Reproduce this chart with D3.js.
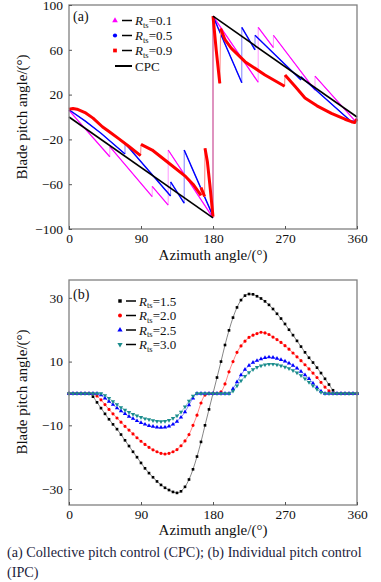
<!DOCTYPE html>
<html lang="en">
<head>
<meta charset="utf-8">
<title>Blade pitch angle vs azimuth</title>
<script src="https://d3js.org/d3.v7.min.js"></script>
<style>
body { margin: 0; background: #fff; }
svg { font-family: "Liberation Serif", "DejaVu Serif", serif; fill: #111; }
.frame { fill: none; stroke: #808080; stroke-width: 1.3px; }
.tick line { stroke: #555; stroke-width: 1px; }
.tick text { font-family: "Liberation Serif", serif; font-size: 13.5px; fill: #111; }
</style>
</head>
<body>
<script>
// ---- panel (a): collective pitch control, segments of [azimuth, pitch]
var pinkA = [
  [[0, 6], [51, -35.5]],
  [[51, -26.5], [104, -71]],
  [[104, -62], [124, -78.6]],
  [[124, -29.5], [180, -90]],
  [[180, 90], [236.5, 31]],
  [[236.5, 80], [255.5, 62]],
  [[255.5, 73], [307.5, 24]],
  [[307.5, 36.5], [357, -3], [360, -1]]
];
var blueA = [
  [[0, 6.5], [20, -3.5], [40, -14.5], [70, -33]],
  [[70, -23.5], [127, -70.5]],
  [[127, -58], [144, -77]],
  [[144, -29.5], [180, -88.5]],
  [[180, 90], [216, 30.5]],
  [[216, 80], [232.5, 60]],
  [[232.5, 73], [290, 33]],
  [[290, 36], [352, -3.5], [358, -4], [360, -2]]
];
var redA = [
  [[0, 7], [5, 7.6], [10, 7], [20, 4], [30, -1], [41.7, -8.7], [50, -13], [62.5, -19.5], [75, -26.3], [89.5, -34.5]],
  [[90, -24.4], [104, -29.5], [125, -41.3], [146, -53.3], [155, -60], [165, -70]],
  [[165, -63], [169.5, -71]],
  [[170, -28], [173, -40], [176, -60], [180, -89]],
  [[180, 90], [184, 60], [188.5, 30]],
  [[189.5, 79], [195, 69], [203, 61.3], [220, 49.4], [245, 37.5], [269.5, 27.5]],
  [[270, 37.5], [283, 27], [295, 17], [310, 10], [328, 3.3], [345, -2], [353, -4.2], [357, -5], [360, -2]]
];
var cpcA = [
  [[0, 0], [180, -90]],
  [[180, 90], [360, 0]]
];
var labelsA = ["0.1", "0.5", "0.9"];
var xTicks = [0, 90, 180, 270, 360];
var yTicksA = [-100, -60, -20, 20, 60, 100];

// ---- panel (b): individual pitch control
var azimuthB = [0, 5, 10, 15, 20, 25, 30, 35, 40, 45, 50, 55, 60, 65, 70, 75, 80, 85, 90,
  95, 100, 105, 110, 115, 120, 125, 130, 135, 140, 145, 150, 155, 160, 165, 170, 175, 180,
  185, 190, 195, 200, 205, 210, 215, 220, 225, 230, 235, 240, 245, 250, 255, 260, 265, 270,
  275, 280, 285, 290, 295, 300, 305, 310, 315, 320, 325, 330, 335, 340, 345, 350, 355, 360];
var rts15 = [0, 0, 0, 0, 0, 0,
  -1.0, -2.8, -4.6, -6.4, -8.1, -9.7, -11.2, -12.9, -14.7, -16.5, -18.3, -20.0, -21.8, -23.5,
  -25.0, -26.3, -27.6, -28.7, -29.6, -30.3, -30.9, -31.2, -30.7, -29.3, -27.0, -23.8, -19.8,
  -15.2, -10.0, -5.0, 0,
  5.0, 10.0, 15.2, 19.8, 23.8, 27.0, 29.3, 30.7, 31.2, 31.1, 30.5, 29.8, 28.9, 27.8, 26.5,
  25.0, 23.5, 21.8, 20.0, 18.3, 16.5, 14.7, 12.9, 11.2, 9.7, 8.1, 6.4, 4.6, 2.8, 1.0,
  0, 0, 0, 0, 0, 0];
var rts20 = [0, 0, 0, 0, 0, 0, 0,
  -0.8, -2.0, -3.5, -5.0, -6.4, -7.7, -9.0, -10.3, -11.5, -12.7, -13.9, -15.0, -16.0, -16.9,
  -17.7, -18.3, -18.8, -19.0, -18.8, -18.3, -17.6, -16.4, -14.9, -12.9, -10.0, -6.8, -3.0, -0.5,
  0, 0, 0,
  0.5, 3.0, 6.8, 10.0, 12.9, 14.9, 16.4, 17.6, 18.3, 18.8, 19.2, 19.0, 18.5, 17.7, 16.9,
  16.0, 15.0, 13.9, 12.7, 11.5, 10.3, 9.0, 7.7, 6.4, 5.0, 3.5, 2.0, 0.8,
  0, 0, 0, 0, 0, 0, 0];
var rts25 = [0, 0, 0, 0, 0, 0, 0, 0,
  -0.5, -1.5, -2.5, -3.5, -4.6, -5.5, -6.4, -7.2, -7.9, -8.6, -9.2, -9.7, -10.1, -10.4,
  -10.6, -10.7, -10.6, -10.3, -9.7, -8.8, -7.5, -5.8, -3.6, -1.5,
  0, 0, 0, 0, 0, 0, 0, 0, 0,
  1.5, 3.6, 5.8, 7.5, 8.8, 9.7, 10.3, 10.8, 11.2, 11.4, 11.3, 11.0, 10.6, 10.1, 9.5, 8.8,
  7.9, 6.9, 5.8, 4.6, 3.2, 1.9, 0.7,
  0, 0, 0, 0, 0, 0, 0, 0, 0];
var rts30 = [0, 0, 0, 0, 0, 0, 0, 0, 0,
  -0.6, -1.5, -2.5, -3.5, -4.4, -5.2, -5.9, -6.5, -7.0, -7.5, -7.9, -8.2, -8.5, -8.7,
  -8.8, -8.7, -8.4, -7.8, -7.0, -5.8, -4.2, -2.4, -0.8,
  0, 0, 0, 0, 0, 0, 0, 0, 0,
  0.8, 2.4, 4.0, 5.4, 6.6, 7.5, 8.2, 8.7, 9.0, 9.2, 9.2, 9.0, 8.7, 8.3, 7.8, 7.2,
  6.5, 5.6, 4.6, 3.5, 2.4, 1.3, 0.4,
  0, 0, 0, 0, 0, 0, 0, 0, 0];
var labelsB = ["1.5", "2.0", "2.5", "3.0"];
var yTicksB = [-30, -10, 10, 30];

var w = 381, h = 582;
var svg = d3.select("body").append("svg")
  .attr("width", w)
  .attr("height", h);

var xA = d3.scaleLinear().domain([0, 360]).range([69, 357]);
var yA = d3.scaleLinear().domain([-100, 100]).range([229, 5]);
var xB = d3.scaleLinear().domain([0, 360]).range([69, 357]);
var yB = d3.scaleLinear().domain([-35, 35.6]).range([505, 280]);

var lineA = d3.line().x(function(d) { return xA(d[0]); }).y(function(d) { return yA(d[1]); });

function legendLabel(x, y, sub, val) {
  var t = svg.append("text").attr("x", x).attr("y", y).attr("font-size", 13);
  t.append("tspan").attr("font-style", "italic").text("R");
  t.append("tspan").attr("font-size", 8.5).attr("dy", 2.5).text(sub);
  t.append("tspan").attr("dy", -2.5).text("=" + val);
}

function axes(x, y, yTicks, bottom, left) {
  svg.append("g")
    .attr("transform", "translate(0," + bottom + ")")
    .call(d3.axisBottom(x).tickValues(xTicks).tickSizeInner(-3).tickSizeOuter(0).tickPadding(4))
    .call(function(g) { g.select(".domain").remove(); });
  svg.append("g")
    .attr("transform", "translate(" + left + ",0)")
    .call(d3.axisLeft(y).tickValues(yTicks).tickSizeInner(-3).tickSizeOuter(0).tickPadding(6))
    .call(function(g) { g.select(".domain").remove(); });
}

// ---------- panel (a)
var seriesA = [
  { segs: pinkA, color: "#ff00ff", light: "#ff99ff", width: 1.2, sym: d3.symbolTriangle, size: 14 },
  { segs: blueA, color: "#0000ff", light: "#8080ff", width: 1.4, sym: d3.symbolCircle, size: 14 },
  { segs: redA, color: "#ff0000", light: "#ff8080", width: 3, sym: d3.symbolSquare, size: 14 }
];

seriesA.forEach(function(s) {
  // thin connecting line (the jumps)
  svg.append("path")
    .attr("d", lineA(s.segs.flat()))
    .attr("fill", "none")
    .attr("stroke", s.light)
    .attr("stroke-width", 1);
  svg.append("g").selectAll("path")
    .data(s.segs)
    .enter().append("path")
    .attr("d", lineA)
    .attr("fill", "none")
    .attr("stroke", s.color)
    .attr("stroke-width", s.width)
    .attr("stroke-linejoin", "round");
});

svg.append("g").selectAll("path")
  .data(cpcA)
  .enter().append("path")
  .attr("d", lineA)
  .attr("fill", "none")
  .attr("stroke", "#000")
  .attr("stroke-width", 1.6);

svg.append("rect").attr("class", "frame")
  .attr("x", 69).attr("y", 5).attr("width", 288).attr("height", 224);
axes(xA, yA, yTicksA, 229, 69);

svg.append("text").attr("x", 73).attr("y", 21).attr("font-size", 14).text("(a)");

seriesA.forEach(function(s, i) {
  var cy = 20.5 + i * 15;
  svg.append("path")
    .attr("transform", "translate(115," + cy + ")")
    .attr("d", d3.symbol().type(s.sym).size(s.size)())
    .attr("fill", s.color);
  svg.append("line").attr("x1", 122).attr("x2", 132).attr("y1", cy).attr("y2", cy)
    .attr("stroke", "#000").attr("stroke-width", 1.5);
  legendLabel(135, cy + 4.5, "ts", labelsA[i]);
});
svg.append("line").attr("x1", 115).attr("x2", 132).attr("y1", 66).attr("y2", 66)
  .attr("stroke", "#000").attr("stroke-width", 2);
svg.append("text").attr("x", 135).attr("y", 70.5).attr("font-size", 13).text("CPC");

// ---------- panel (b)
var seriesB = [
  { vals: rts15, color: "#000000", sym: d3.symbolSquare, size: 7, rot: 0 },
  { vals: rts20, color: "#ff0000", sym: d3.symbolCircle, size: 8, rot: 0 },
  { vals: rts25, color: "#0000ff", sym: d3.symbolTriangle, size: 8, rot: 0 },
  { vals: rts30, color: "#1a8c8c", sym: d3.symbolTriangle, size: 8, rot: 180 }
];

var lineB = d3.line()
  .x(function(d, i) { return xB(azimuthB[i]); })
  .y(function(d) { return yB(d); })
  .curve(d3.curveMonotoneX);

seriesB.forEach(function(s) {
  svg.append("path")
    .attr("d", lineB(s.vals))
    .attr("fill", "none")
    .attr("stroke", s.color)
    .attr("stroke-opacity", 0.6)
    .attr("stroke-width", 0.8);
  svg.append("g").selectAll("path")
    .data(s.vals)
    .enter().append("path")
    .attr("transform", function(d, i) {
      return "translate(" + xB(azimuthB[i]) + "," + yB(d) + ") rotate(" + s.rot + ")";
    })
    .attr("d", d3.symbol().type(s.sym).size(s.size)())
    .attr("fill", s.color);
});

svg.append("rect").attr("class", "frame")
  .attr("x", 69).attr("y", 280).attr("width", 288).attr("height", 225);
axes(xB, yB, yTicksB, 505, 69);

svg.append("text").attr("x", 73).attr("y", 299).attr("font-size", 14).text("(b)");

seriesB.forEach(function(s, i) {
  var cy = 301 + i * 14.5;
  svg.append("path")
    .attr("transform", "translate(120," + cy + ") rotate(" + s.rot + ")")
    .attr("d", d3.symbol().type(s.sym).size(12)())
    .attr("fill", s.color);
  svg.append("line").attr("x1", 126).attr("x2", 136).attr("y1", cy).attr("y2", cy)
    .attr("stroke", "#000").attr("stroke-width", 1.5);
  legendLabel(139, cy + 4.5, "ts", labelsB[i]);
});

// ---------- axis titles
[[117, 260], [392, 535]].forEach(function(p) {
  svg.append("text")
    .attr("x", 213).attr("y", p[1])
    .attr("text-anchor", "middle")
    .attr("font-size", 15)
    .text("Azimuth angle/(°)");
  svg.append("text")
    .attr("transform", "translate(22," + p[0] + ") rotate(-90)")
    .attr("text-anchor", "middle")
    .attr("dy", "0.35em")
    .attr("font-size", 15)
    .text("Blade pitch angle/(°)");
});

// ---------- caption
svg.append("text").attr("x", 7).attr("y", 557).attr("font-size", 14.2).attr("fill", "#1c1c3c")
  .text("(a) Collective pitch control (CPC); (b) Individual pitch control");
svg.append("text").attr("x", 7).attr("y", 577).attr("font-size", 14.2).attr("fill", "#1c1c3c")
  .text("(IPC)");
</script>
</body>
</html>
